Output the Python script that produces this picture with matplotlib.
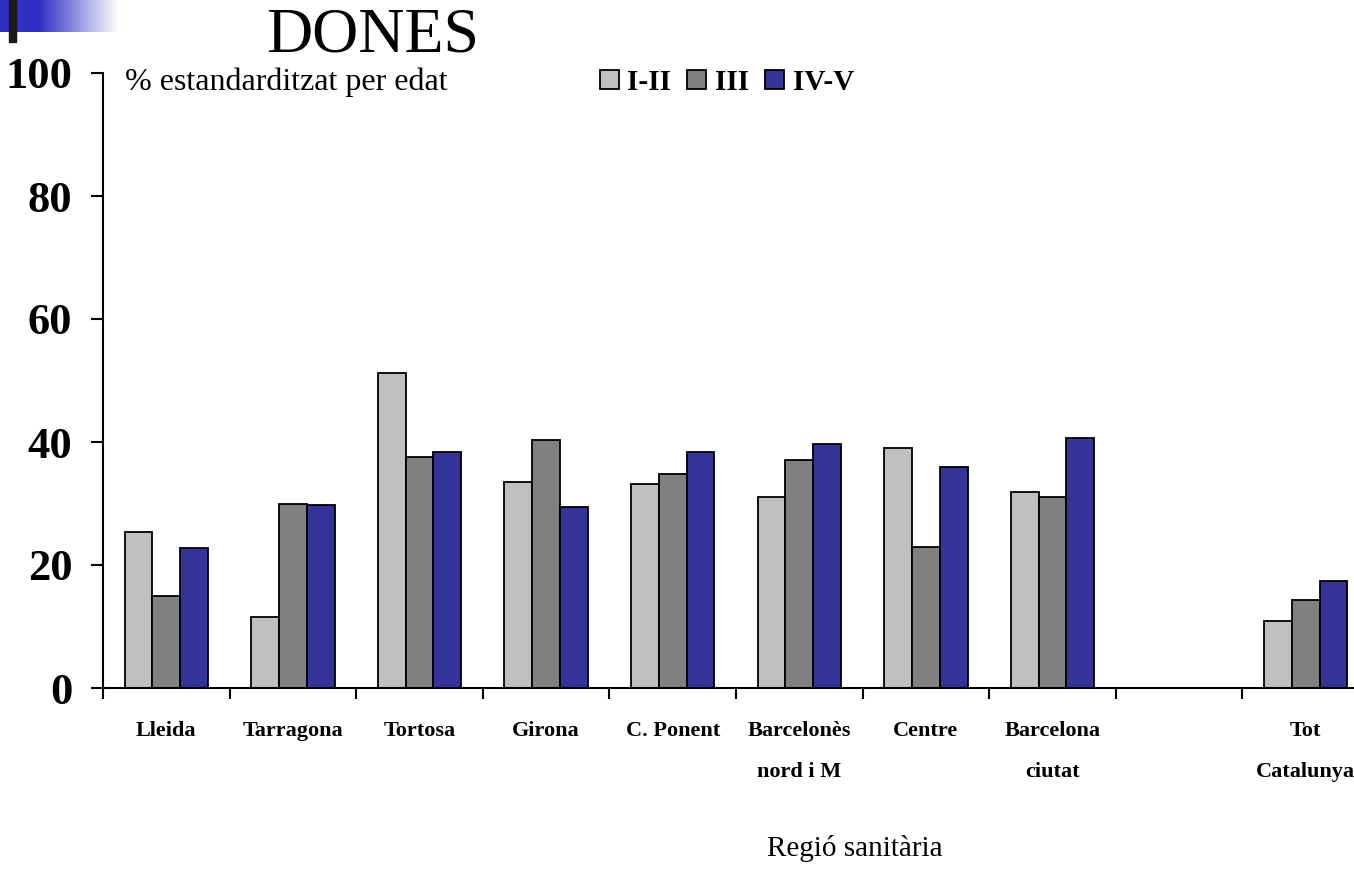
import matplotlib.pyplot as plt
from matplotlib.patches import Rectangle
import numpy as np

plt.rcParams['font.family'] = ['Liberation Serif', 'DejaVu Serif']

W, H = 1354, 884

regions = ["Lleida", "Tarragona", "Tortosa", "Girona", "C. Ponent",
           "Barcelonès\nnord i M", "Centre", "Barcelona\nciutat", "",
           "Tot\nCatalunya"]
classe_1_2 = [25.3, 11.6, 51.3, 33.5, 33.2, 31.1, 39.0, 31.8, np.nan, 10.9]
classe_3 = [15.0, 30.0, 37.6, 40.3, 34.8, 37.0, 22.9, 31.1, np.nan, 14.3]
classe_4_5 = [22.8, 29.7, 38.3, 29.4, 38.3, 39.7, 35.9, 40.7, np.nan, 17.4]
series_names = ["I-II", "III", "IV-V"]
colors = ["#C0C0C0", "#808080", "#333399"]

fig = plt.figure(figsize=(W / 100, H / 100), dpi=100)

# logo a dalt a l'esquerra: bloc blau que s'esvaeix cap al blanc
logo = fig.add_axes([0, 1 - 32 / H, 118 / W, 32 / H])
t = np.clip((np.linspace(0, 118, 236) - 40) / 78, 0, 1)
base = np.array([0.19, 0.19, 0.78])
grad = base[None, :] * (1 - t[:, None]) + t[:, None]
logo.imshow(grad[None, :, :], aspect="auto", extent=(0, 1, 0, 1))
logo.axis("off")
fig.patches.append(Rectangle((9 / W, 1 - 42 / H), 7 / W, 42 / H,
                             transform=fig.transFigure, color="#1a1a1a"))

ax = fig.add_axes([103 / W, 1 - 688 / H, 1266 / W, 615 / H])
x = np.arange(len(regions)) + 0.5
bw = 0.22
for k, (vals, name, c) in enumerate(zip([classe_1_2, classe_3, classe_4_5],
                                        series_names, colors)):
    ax.bar(x + (k - 1) * bw, vals, width=bw, color=c, edgecolor="black",
           linewidth=1.3, label=name, zorder=2)

ax.set_xlim(0, len(regions))
ax.set_ylim(0, 100)
for s in ["top", "right"]:
    ax.spines[s].set_visible(False)
ax.spines["left"].set_linewidth(1.5)
ax.spines["bottom"].set_linewidth(1.5)
ax.spines["bottom"].set_zorder(3)

ax.set_yticks(range(0, 101, 20))
ax.tick_params(axis="y", length=9, width=1.5, pad=13, labelsize=32)
for lab in ax.get_yticklabels():
    lab.set_fontweight("bold")

ax.set_xticks(np.arange(len(regions) + 1))
ax.set_xticklabels([])
ax.tick_params(axis="x", which="major", length=8, width=1.5, direction="out")
ax.set_xticks(x, minor=True)
ax.set_xticklabels(regions, minor=True, fontsize=16, fontweight="bold",
                   linespacing=2.4, va="top")
ax.tick_params(axis="x", which="minor", length=0, pad=24)

fig.text(373 / W, 1 - 36 / H, "DONES", fontsize=46, ha="center", va="center")
fig.text(125 / W, 1 - 82 / H, "% estandarditzat per edat",
         fontsize=23, ha="left", va="center")
fig.text(855 / W, 1 - 848 / H, "Regió sanitària", fontsize=21,
         ha="center", va="center")

ax.legend(loc="center left", bbox_to_anchor=(485 / 1266, 1 - 9 / 615),
          ncol=3, frameon=False, handlelength=0.65, handleheight=0.65,
          handletextpad=0.3, columnspacing=0.55, borderaxespad=0,
          prop={"size": 21, "weight": "bold"})

fig.savefig("out.png", dpi=100)
